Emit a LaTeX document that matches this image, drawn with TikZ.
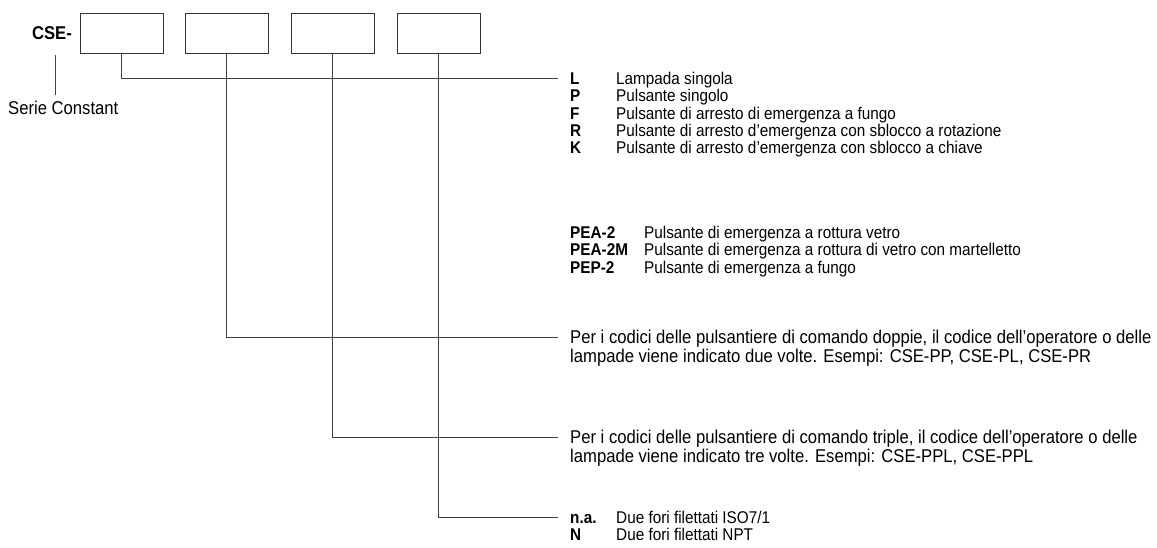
\documentclass[tikz,border=0pt]{standalone}
\usepackage{fontspec}
\setmainfont{Liberation Sans}[FakeStretch=0.9]
\begin{document}
\begin{tikzpicture}[x=1pt,y=-1pt]
\tikzset{
  box/.style={draw=black!80, line width=0.9pt, minimum width=83pt, minimum height=40pt, inner sep=0pt},
  conn/.style={draw=black!75, line width=0.8pt},
  txt/.style={anchor=base west, inner sep=0pt, font=\fontsize{17}{17}\selectfont},
  ptxt/.style={anchor=base west, inner sep=0pt, font=\fontsize{18.5}{17}\selectfont},
}
\useasboundingbox (0,0) rectangle (1157,548);
% prefix
\node[txt, anchor=base east, font=\fontsize{18.5}{17}\selectfont\bfseries] (cse) at (72,40) {CSE-};
\node[ptxt] (serie) at (8,115) {Serie Constant};
\coordinate (s1) at (55,55);
\coordinate (s2) at (55,95);
\draw[conn] (s1) -- (s2);
% boxes
\node[box] (b1) at (121.5,33) {};
\node[box] (b2) at (226.5,33) {};
\node[box] (b3) at (332.5,33) {};
\node[box] (b4) at (438.5,33) {};
% connector ends
\coordinate (e1) at (558,78);
\coordinate (e2) at (558,337);
\coordinate (e3) at (558,437);
\coordinate (e4) at (558,517);
\draw[conn] (b1.south) |- (e1);
\draw[conn] (b2.south) |- (e2);
\draw[conn] (b3.south) |- (e3);
\draw[conn] (b4.south) |- (e4);
% texts
\node[txt] (t1) at (570,84.2) {\begin{tabular}[t]{@{}p{46pt}@{}l@{}}
\textbf{L} & Lampada singola\\
\textbf{P} & Pulsante singolo\\
\textbf{F} & Pulsante di arresto di emergenza a fungo\\
\textbf{R} & Pulsante di arresto d'emergenza con sblocco a rotazione\\
\textbf{K} & Pulsante di arresto d'emergenza con sblocco a chiave
\end{tabular}};
\node[txt] (t1b) at (570,238.2) {\begin{tabular}[t]{@{}p{74pt}@{}l@{}}
\textbf{PEA-2} & Pulsante di emergenza a rottura vetro\\
\textbf{PEA-2M} & Pulsante di emergenza a rottura di vetro con martelletto\\
\textbf{PEP-2} & Pulsante di emergenza a fungo
\end{tabular}};
\node[ptxt] (t2) at (570,343.5) {\begin{tabular}[t]{@{}l@{}}
Per i codici delle pulsantiere di comando doppie, il codice dell'operatore o delle\\
lampade viene indicato due volte. Esempi: CSE-PP, CSE-PL, CSE-PR
\end{tabular}};
\node[ptxt] (t3) at (570,443.5) {\begin{tabular}[t]{@{}l@{}}
Per i codici delle pulsantiere di comando triple, il codice dell'operatore o delle\\
lampade viene indicato tre volte. Esempi: CSE-PPL, CSE-PPL
\end{tabular}};
\node[txt] (t4) at (570,523.2) {\begin{tabular}[t]{@{}p{46pt}@{}l@{}}
\textbf{n.a.} & Due fori filettati ISO7/1\\
\textbf{N} & Due fori filettati NPT
\end{tabular}};
\end{tikzpicture}
\end{document}
